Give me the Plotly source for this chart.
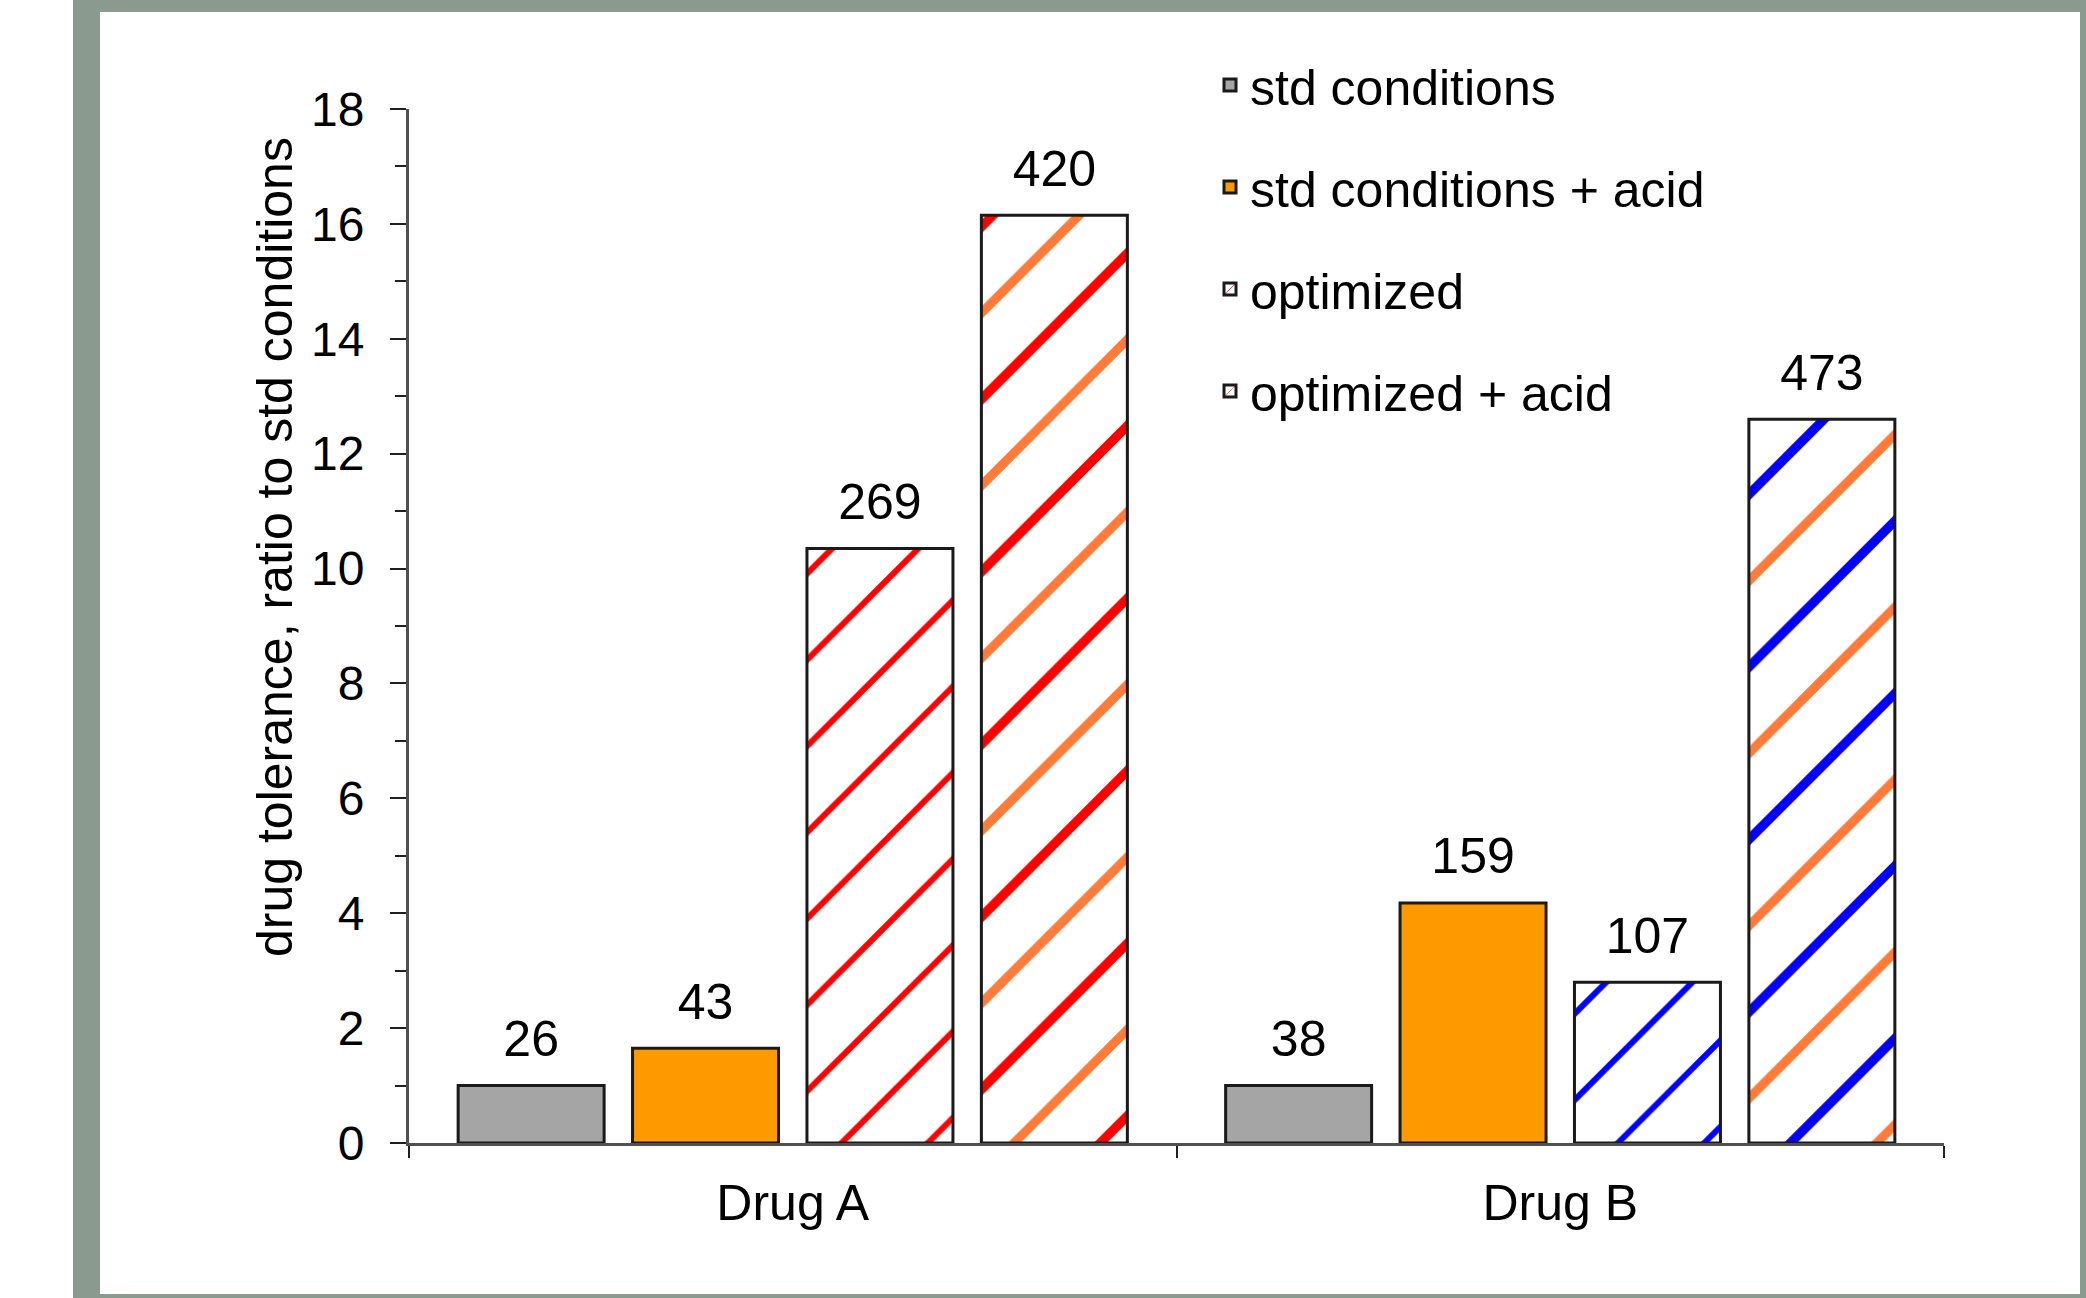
import plotly.graph_objects as go

# ---------------- data ----------------
categories = ["Drug A", "Drug B"]
series_names = ["std conditions", "std conditions + acid", "optimized", "optimized + acid"]
std_vals = [1.0, 1.0]
std_acid_vals = [1.65, 4.18]
opt_vals = [10.35, 2.8]
opt_acid_vals = [16.15, 12.6]
std_labels = ["26", "38"]
std_acid_labels = ["43", "159"]
opt_labels = ["269", "107"]
opt_acid_labels = ["420", "473"]
y_title = "drug tolerance, ratio to std conditions"

# ---------------- style ----------------
W, H = 2086, 1298
L, R, T, B = 409, 2086 - 1944, 109, 1298 - 1143
FONT = "Arial, Liberation Sans, sans-serif"
FS = 50
TICKFS = 48
OUTLINE = dict(color="#1a1a1a", width=3)
hatch_main = ["#ff0000", "#0000ff"]
hatch_alt = ["#ff7b3a", "#ff7b3a"]
frame_col = "#8a9a8e"
AXCOL = "#505050"

# spacer pushes the outside labels a little further above the bars
SPACER = "<sub><span style='font-size:76px'> </span></sub>"


def lab(items):
    return [SPACER + s + SPACER for s in items]


def px_x(px):
    return (px - L) / (W - L - R)


def px_y(py):
    return (H - B - py) / (H - T - B)


fig = go.Figure()

fig.add_trace(go.Bar(
    x=categories, y=std_vals, name=series_names[0], offsetgroup="1",
    legendgroup="g1",
    marker=dict(color="#a5a5a5", line=OUTLINE),
    text=lab(std_labels), textposition="outside", cliponaxis=False,
))
fig.add_trace(go.Bar(
    x=categories, y=std_acid_vals, name=series_names[1], offsetgroup="2",
    legendgroup="g2",
    marker=dict(color="#ff9900", line=OUTLINE),
    text=lab(std_acid_labels), textposition="outside", cliponaxis=False,
))
fig.add_trace(go.Bar(
    x=categories, y=opt_vals, name=series_names[2], offsetgroup="3",
    legendgroup="g3",
    marker=dict(color=hatch_main, line=OUTLINE,
                pattern=dict(shape="/", fgcolor=hatch_main, bgcolor="white",
                             size=61, solidity=0.1, fillmode="replace")),
    text=lab(opt_labels), textposition="outside", cliponaxis=False,
))
# under layer: alternate-colour hatch at half spacing
fig.add_trace(go.Bar(
    x=categories, y=opt_acid_vals, name=series_names[3], offsetgroup="4",
    legendgroup="g4", showlegend=False, hoverinfo="skip",
    marker=dict(color=hatch_alt, line=dict(width=0),
                pattern=dict(shape="/", fgcolor=hatch_alt, bgcolor="white",
                             size=61, solidity=0.15, fillmode="replace")),
))
# top layer: main-colour hatch at full spacing
fig.add_trace(go.Bar(
    x=categories, y=opt_acid_vals, name=series_names[3], offsetgroup="4",
    legendgroup="g4",
    marker=dict(color=hatch_main, line=OUTLINE,
                pattern=dict(shape="/", fgcolor=hatch_main, bgcolor="rgba(0,0,0,0)",
                             size=122, solidity=0.075, fillmode="replace")),
    text=lab(opt_acid_labels), textposition="outside", cliponaxis=False,
))

fig.update_traces(textfont=dict(family=FONT, size=FS, color="black"),
                  selector=dict(type="bar"))

# frame bands
shapes = []
for (x0, x1, y0, y1) in [(73, 100, 0, H), (73, W, 0, 12), (2080, W, 0, H), (73, W, 1294, H)]:
    shapes.append(dict(type="rect", xref="paper", yref="paper",
                       x0=px_x(x0), x1=px_x(x1), y0=px_y(y1), y1=px_y(y0),
                       fillcolor=frame_col, line=dict(width=0), layer="below"))

fig.update_layout(
    width=W, height=H,
    margin=dict(l=L, r=R, t=T, b=B),
    paper_bgcolor="white", plot_bgcolor="white",
    barmode="group", bargap=0.091, bargroupgap=0.163,
    font=dict(family=FONT, size=FS, color="black"),
    showlegend=True,
    legend=dict(x=px_x(1210), xanchor="left", y=px_y(46), yanchor="top",
                font=dict(family=FONT, size=FS, color="black"),
                tracegroupgap=34, bgcolor="rgba(0,0,0,0)"),
    shapes=shapes,
    annotations=[dict(text=y_title, textangle=-90, xref="paper", yref="paper",
                      x=px_x(275), y=px_y(547), xanchor="center", yanchor="middle",
                      showarrow=False, font=dict(family=FONT, size=FS, color="black"))],
    xaxis=dict(type="category", categoryorder="array", categoryarray=categories,
               range=[-0.5, 1.5], showline=True, linecolor=AXCOL, linewidth=3,
               ticks="outside", tickson="boundaries", ticklen=12, tickwidth=2,
               tickcolor="#202020", showgrid=False, zeroline=False,
               ticklabelstandoff=14,
               tickfont=dict(family=FONT, size=FS, color="black")),
    yaxis=dict(range=[0, 18], dtick=2, showline=True, linecolor=AXCOL, linewidth=3,
               ticks="outside", ticklen=16, tickwidth=2, tickcolor="#202020",
               minor=dict(dtick=1, ticks="outside", ticklen=11, tickwidth=2, tickcolor="#202020"),
               showgrid=False, zeroline=False, ticklabelstandoff=16,
               tickfont=dict(family=FONT, size=TICKFS, color="black")),
)

fig.write_html("out.html", config={"displayModeBar": False},
               post_script="document.body.style.margin='0';")
